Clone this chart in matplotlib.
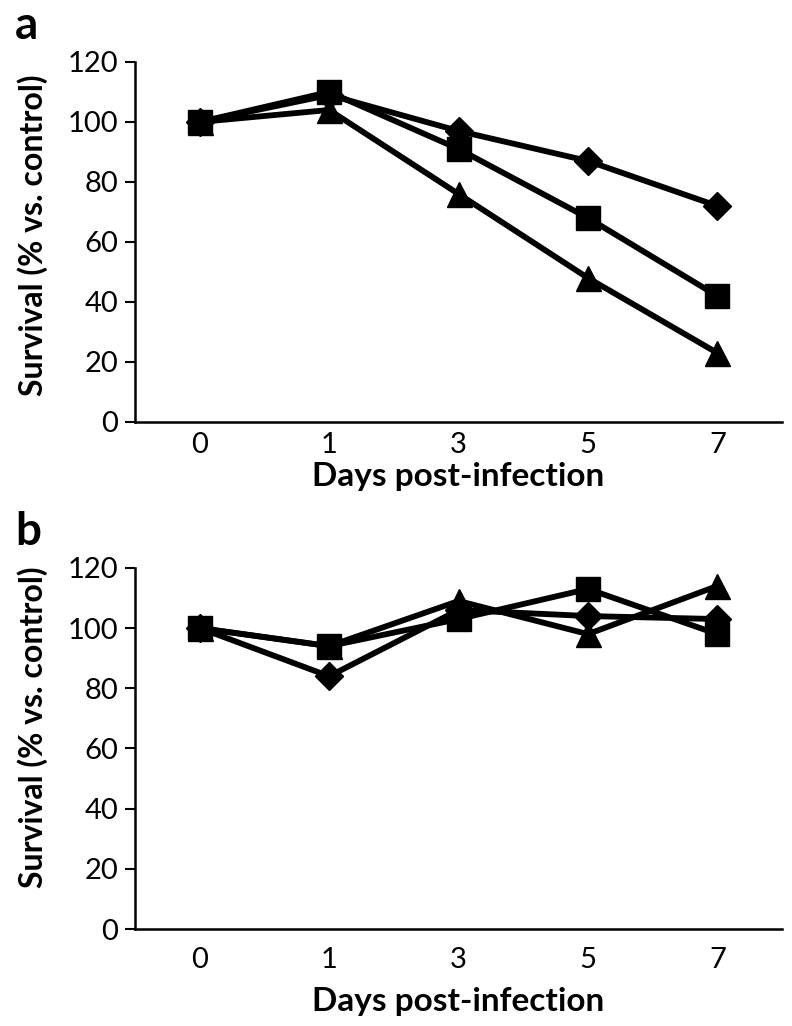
import matplotlib
matplotlib.use('Agg')
import matplotlib.pyplot as plt
import numpy as np

# Data
days = ['0', '1', '3', '5', '7']

a_diamond = [100, 109, 97, 87, 72]
a_square = [100, 110, 91, 68, 42]
a_triangle = [100, 104, 76, 48, 23]

b_diamond = [100, 84, 106, 104, 103]
b_square = [100, 94, 103, 113, 98]
b_triangle = [100, 94, 109, 98, 114]

plt.rcParams['font.family'] = ['Lato', 'DejaVu Sans']

fig = plt.figure(figsize=(7.92, 10.26), dpi=100)
ax_a = fig.add_axes([0.1705, 0.5887, 0.817, 0.3509])
ax_b = fig.add_axes([0.1705, 0.0945, 0.817, 0.352])

x = np.arange(len(days))


def draw_panel(ax, diamond, square, triangle, letter, label_y, tpad, lpad):
    ax.plot(x, diamond, color='black', lw=4.2, marker='D', markersize=14,
            clip_on=False, zorder=3)
    ax.plot(x, triangle, color='black', lw=4.2, marker='^', markersize=18,
            clip_on=False, zorder=3)
    ax.plot(x, square, color='black', lw=4.2, marker='s', markersize=17,
            clip_on=False, zorder=4)

    ax.set_xlim(-0.5, 4.5)
    ax.set_ylim(0, 120)
    ax.set_yticks(np.arange(0, 121, 20))
    ax.set_xticks(x)
    ax.set_xticklabels(days)
    ax.tick_params(axis='y', direction='out', length=7, width=1.5,
                   labelsize=21, pad=5)
    ax.tick_params(axis='x', length=0, labelsize=21, pad=tpad)
    for side in ['top', 'right']:
        ax.spines[side].set_visible(False)
    for side in ['left', 'bottom']:
        ax.spines[side].set_linewidth(1.8)

    ax.set_xlabel('Days post-infection', fontsize=24, fontweight='bold',
                  labelpad=lpad)
    ax.set_ylabel('Survival (% vs. control)', fontsize=23, fontweight='bold')
    ax.yaxis.set_label_coords(-0.135, label_y)
    ax.text(-0.185, 1.064, letter, transform=ax.transAxes, fontsize=33,
            fontweight='bold', va='baseline', ha='left')


draw_panel(ax_a, a_diamond, a_square, a_triangle, 'a', 0.52, 7, 3)
draw_panel(ax_b, b_diamond, b_square, b_triangle, 'b', 0.56, 13, 10)

fig.savefig('out.png', dpi=100)
